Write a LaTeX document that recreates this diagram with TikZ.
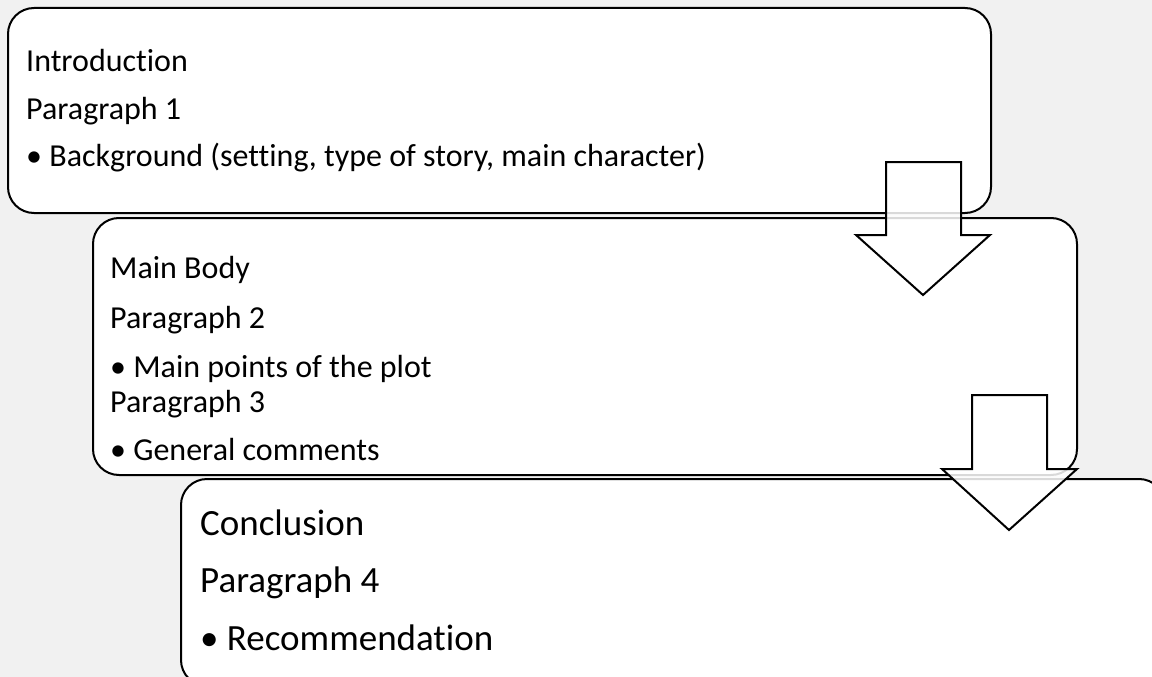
\documentclass[tikz,border=0pt]{standalone}
\usepackage{fontspec}
\setmainfont{Carlito}[Ligatures=NoCommon]
\begin{document}
\begin{tikzpicture}[x=1pt,y=-1pt,
  box/.style={draw=black,line width=2pt,fill=white,rounded corners=26pt},
  txt/.style={anchor=base west,inner sep=0pt,font=\fontsize{32}{36}\selectfont},
  bigtxt/.style={anchor=base west,inner sep=0pt,font=\fontsize{37}{42}\selectfont},
  blockarrow/.style={draw=black,line width=2pt,fill=white,fill opacity=0.85,line join=miter}]
\useasboundingbox (0,0) rectangle (1152,677);
\clip (0,0) rectangle (1152,677);
\fill[black!5.5] (0,0) rectangle (1152,677);
% box 1
\draw[box] (8,8) rectangle (991,213);
\node[txt] (t11) at (26,72) {Introduction};
\node[txt] (t12) at (26,120) {Paragraph 1};
\node[txt] (t13) at (26,166) {• Background (setting, type of story, main character)};
% box 2
\draw[box] (93,218) rectangle (1077,475);
\node[txt] (t21) at (110,278) {Main Body};
\node[txt] (t22) at (110,328) {Paragraph 2};
\node[txt] (t23) at (110,377) {• Main points of the plot};
\node[txt] (t24) at (110,412) {Paragraph 3};
\node[txt] (t25) at (110,460) {• General comments};
% arrow 1
\draw[blockarrow] (886,162) -- (961,162) -- (961,235) -- (990,235) -- (923,295) -- (856,235) -- (886,235) -- cycle;
% box 3
\draw[box] (181,479) rectangle (1165,686);
\node[bigtxt] (t31) at (200,535) {Conclusion};
\node[bigtxt] (t32) at (200,592) {Paragraph 4};
\node[bigtxt] (t33) at (200,650) {• Recommendation};
% arrow 2
\draw[blockarrow] (972,395) -- (1047,395) -- (1047,469) -- (1077,469) -- (1009,530) -- (942,469) -- (972,469) -- cycle;
\end{tikzpicture}
\end{document}
